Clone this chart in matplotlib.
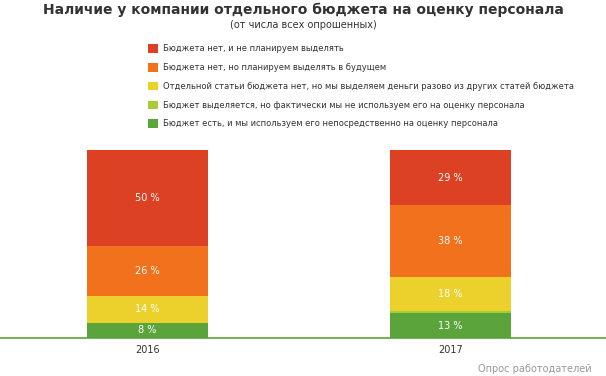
import matplotlib.pyplot as plt
import numpy as np

years = ['2016', '2017']
labels = [
    'Бюджет есть, и мы используем его непосредственно на оценку персонала',
    'Бюджет выделяется, но фактически мы не используем его на оценку персонала',
    'Отдельной статьи бюджета нет, но мы выделяем деньги разово из других статей бюджета',
    'Бюджета нет, но планируем выделять в будущем',
    'Бюджета нет, и не планируем выделять',
]
# values in %, bottom to top
used = [8, 13]
not_used = [0, 1]
one_off = [14, 18]
planned = [26, 38]
none = [50, 29]

colors = ['#5ba33b', '#a8cd34', '#ecd02b', '#f2711d', '#dc4123']

series = [used, not_used, one_off, planned, none]
data = np.array(series, dtype=float)
pct = data / data.sum(axis=0) * 100  # percent stacking

fig = plt.figure(figsize=(6.06, 3.76), dpi=100)
ax = fig.add_axes([-0.007, 38 / 376, 1.0, 188 / 376])

x = np.arange(len(years))
bottom = np.zeros(len(years))
bars = []
for i in range(len(series)):
    b = ax.bar(x, pct[i], 0.4, bottom=bottom, color=colors[i], label=labels[i], linewidth=0)
    bars.append(b)
    for j in range(len(years)):
        if data[i, j] >= 5:
            ax.text(x[j], bottom[j] + pct[i, j] / 2, f'{int(data[i, j])} %', ha='center', va='center',
                    color='white', fontsize=7)
    bottom += pct[i]

ax.set_xlim(-0.5, 1.5)
ax.set_ylim(0, 100)
ax.set_yticks([])
ax.set_xticks(x)
ax.set_xticklabels(years, fontsize=7, color='#333333')
ax.tick_params(axis='x', length=0, pad=5)
for s in ['top', 'right', 'left']:
    ax.spines[s].set_visible(False)
ax.spines['bottom'].set_visible(False)
ax.set_facecolor('none')
# baseline across the full width
fig.add_artist(plt.Line2D([0, 1], [38 / 376, 38 / 376], color='#5ba33b', linewidth=1.2))

fig.text(0.5, 1 - 10 / 376, 'Наличие у компании отдельного бюджета на оценку персонала',
         ha='center', va='center', fontsize=10, fontweight='bold', color='#333333')
fig.text(0.5, 1 - 25 / 376, '(от числа всех опрошенных)', ha='center', va='center',
         fontsize=7, color='#333333')

handles = bars[::-1]
fig.legend(handles, labels[::-1], loc='upper left', bbox_to_anchor=(145 / 606, 1 - 41 / 376),
           frameon=False, fontsize=6, labelspacing=1.16, handlelength=1.2, handleheight=1.2,
           handletextpad=0.6, borderaxespad=0, labelcolor='#333333')

fig.text(592 / 606, 1 - 369 / 376, 'Опрос работодателей', ha='right', va='center',
         fontsize=7, color='#999999')

plt.savefig('out.png', dpi=100)
